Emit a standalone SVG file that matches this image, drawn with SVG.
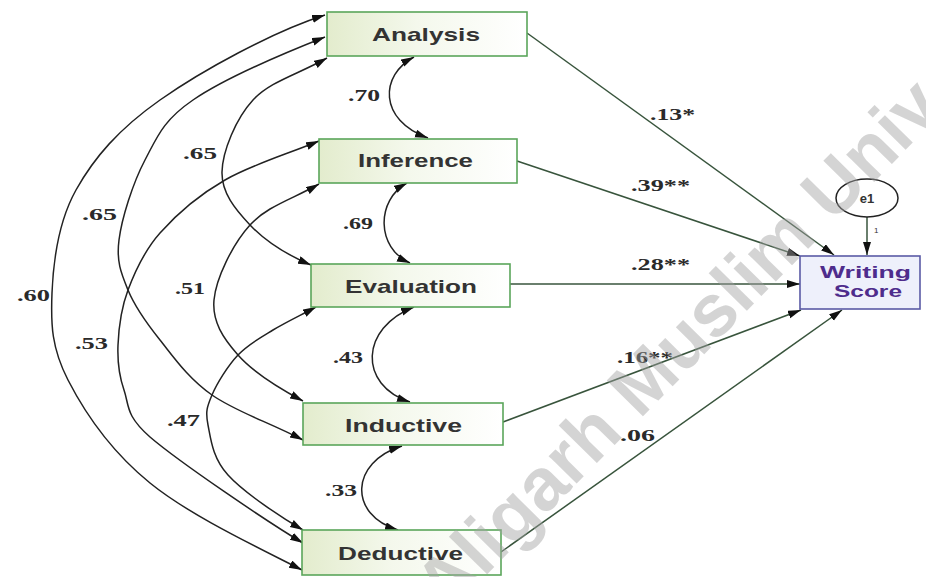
<svg xmlns="http://www.w3.org/2000/svg" width="926" height="577" viewBox="0 0 926 577">
  <defs>
    <linearGradient id="obsFill" x1="0" y1="0" x2="1" y2="0">
      <stop offset="0" stop-color="#e3eccd"/>
      <stop offset="0.45" stop-color="#f4f8ec"/>
      <stop offset="1" stop-color="#ffffff"/>
    </linearGradient>
    <marker id="head" markerUnits="userSpaceOnUse" markerWidth="15" markerHeight="9" refX="13" refY="4" orient="auto-start-reverse" viewBox="0 0 15 9">
      <path d="M0,0 L13,4 L0,8 z" fill="#111"/>
    </marker>
    <style>
      .obs rect { fill: url(#obsFill); stroke: #5aa65a; stroke-width: 1.6; }
      .obs text { font-family: "Liberation Sans", Arial, sans-serif; font-weight: bold; font-size: 19px; fill: #333; }
      .cov { fill: none; stroke: #222; stroke-width: 1.5; marker-start: url(#head); marker-end: url(#head); }
      .reg { fill: none; stroke: #38543c; stroke-width: 1.5; marker-end: url(#head); }
      .num { font-family: "Liberation Serif", "Times New Roman", serif; font-weight: bold; font-size: 17px; fill: #2a2a2a; }
      .wm { font-family: "Liberation Sans", Arial, sans-serif; font-weight: bold; font-size: 74px; fill: #a2a2a2; opacity: 0.45; }
    </style>
  </defs>
  <rect width="926" height="577" fill="#ffffff"/>

  <!-- connectors: covariances (left) and regression paths (right) -->
  <g id="connectors">
    <path class="cov" d="M325,15 C273,31.5 201.5,70.8 160,100 C118.5,129.2 94,157.8 76,190 C58,222.2 53.3,261.3 52,293 C50.7,324.7 51.7,348.3 68,380 C84.3,411.7 111,451.3 150,483 C189,514.7 253,545 302,570"/>
    <path class="cov" d="M325,37 C283,53.6 223,79.5 193,100 C163,120.5 157.3,136.7 145,160 C132.7,183.3 121.8,218.3 119,240 C116.2,261.7 121.2,273.3 128,290 C134.8,306.7 146,322.5 160,340 C174,357.5 188.2,378.3 212,395 C235.8,411.7 267.4,421.6 303,440"/>
    <path class="cov" d="M327,58 C298.6,74.1 270.2,81.3 253,100 C235.8,118.7 222.5,151.2 222,172 C221.5,192.8 235.2,209.5 250,225 C264.8,240.5 288,255.3 311,265"/>
    <path class="cov" d="M319,141 C286.8,154.3 251.5,164.7 225,180 C198.5,195.3 176.2,214.7 160,233 C143.8,251.3 135,271.3 128,290 C121,308.7 118.7,328.3 118,345 C117.3,361.7 118.7,374.7 124,390 C129.3,405.3 125,415 150,437 C179.8,462.5 268.6,522.6 303,543"/>
    <path class="cov" d="M319,184 C292.9,199 267.5,205.7 250,225 C232.5,244.3 216,278.3 214,300 C212,321.7 223.2,338.2 238,355 C252.8,371.8 281,389.3 303,401"/>
    <path class="cov" d="M316,307 C300,315.6 286.3,322 273,330 C259.7,338 248.2,344.2 238,355 C227.8,365.8 217,383.3 212,395 C207,406.7 205.3,411.7 208,425 C210.7,438.3 212.2,457.5 228,475 C243.8,492.5 281.3,517.5 303,530"/>
    <path class="cov" d="M414,57 C380,75 378,120 428,138"/>
    <path class="cov" d="M407,183 C376,200 376,248 410,263"/>
    <path class="cov" d="M414,307 C360,328 358,385 410,402"/>
    <path class="cov" d="M402,446 C350,462 348,515 398,530"/>

    <path class="reg" d="M527,33 L834,255"/>
    <path class="reg" d="M517,161 L800,256"/>
    <path class="reg" d="M510,284 L800,284"/>
    <path class="reg" d="M503,422 L801,310"/>
    <path class="reg" d="M501,552 L842,310"/>
    <path class="reg" stroke="#222" d="M867,217 L867,255"/>
  </g>

  <!-- coefficient labels -->
  <g id="labels">
    <text class="num" x="17" y="301" textLength="33" lengthAdjust="spacingAndGlyphs">.60</text>
    <text class="num" x="82" y="220" textLength="35" lengthAdjust="spacingAndGlyphs">.65</text>
    <text class="num" x="75" y="349" textLength="33" lengthAdjust="spacingAndGlyphs">.53</text>
    <text class="num" x="183" y="159" textLength="34" lengthAdjust="spacingAndGlyphs">.65</text>
    <text class="num" x="175" y="294" textLength="30" lengthAdjust="spacingAndGlyphs">.51</text>
    <text class="num" x="167" y="426" textLength="33" lengthAdjust="spacingAndGlyphs">.47</text>
    <text class="num" x="348" y="101" textLength="32" lengthAdjust="spacingAndGlyphs">.70</text>
    <text class="num" x="343" y="229" textLength="30" lengthAdjust="spacingAndGlyphs">.69</text>
    <text class="num" x="333" y="363" textLength="30" lengthAdjust="spacingAndGlyphs">.43</text>
    <text class="num" x="325" y="496" textLength="32" lengthAdjust="spacingAndGlyphs">.33</text>
    <text class="num" x="650" y="120" textLength="45" lengthAdjust="spacingAndGlyphs">.13*</text>
    <text class="num" x="631" y="191" textLength="59" lengthAdjust="spacingAndGlyphs">.39**</text>
    <text class="num" x="631" y="270" textLength="59" lengthAdjust="spacingAndGlyphs">.28**</text>
    <text class="num" x="617" y="363" textLength="56" lengthAdjust="spacingAndGlyphs">.16**</text>
    <text class="num" x="620" y="441" textLength="35" lengthAdjust="spacingAndGlyphs">.06</text>
    <text x="874" y="233" font-family="Liberation Sans, Arial, sans-serif" font-size="8" fill="#333">1</text>
  </g>

  <!-- observed variables -->
  <g id="analysis" class="obs">
    <rect x="327" y="12" width="200" height="44"/>
    <text x="372" y="41" textLength="108" lengthAdjust="spacingAndGlyphs">Analysis</text>
  </g>
  <g id="inference" class="obs">
    <rect x="319" y="139" width="198" height="44"/>
    <text x="358" y="167" textLength="115" lengthAdjust="spacingAndGlyphs">Inference</text>
  </g>
  <g id="evaluation" class="obs">
    <rect x="311" y="264" width="199" height="43"/>
    <text x="345" y="293" textLength="132" lengthAdjust="spacingAndGlyphs">Evaluation</text>
  </g>
  <g id="inductive" class="obs">
    <rect x="303" y="403" width="200" height="42"/>
    <text x="345" y="432" textLength="117" lengthAdjust="spacingAndGlyphs">Inductive</text>
  </g>
  <g id="deductive" class="obs">
    <rect x="302" y="530" width="199" height="45"/>
    <text x="338" y="560" textLength="125" lengthAdjust="spacingAndGlyphs">Deductive</text>
  </g>

  <!-- outcome and its error term -->
  <g id="writing-score">
    <rect x="800" y="256" width="120" height="53" fill="#eef0fb" stroke="#5a5aa6" stroke-width="1.6"/>
    <text x="820" y="278" textLength="91" lengthAdjust="spacingAndGlyphs" font-family="Liberation Sans, Arial, sans-serif" font-weight="bold" font-size="17" fill="#4e2c8c">Writing</text>
    <text x="834" y="297" textLength="68" lengthAdjust="spacingAndGlyphs" font-family="Liberation Sans, Arial, sans-serif" font-weight="bold" font-size="17" fill="#4e2c8c">Score</text>
  </g>
  <g id="e1">
    <ellipse cx="867" cy="198" rx="31" ry="19" fill="#ffffff" stroke="#222" stroke-width="1.5"/>
    <text x="867" y="203" text-anchor="middle" font-family="Liberation Sans, Arial, sans-serif" font-weight="bold" font-size="13" fill="#333">e1</text>
  </g>

  <!-- watermark -->
  <text class="wm" transform="translate(446,616) rotate(-45.4)">Aligarh Muslim University</text>
</svg>
